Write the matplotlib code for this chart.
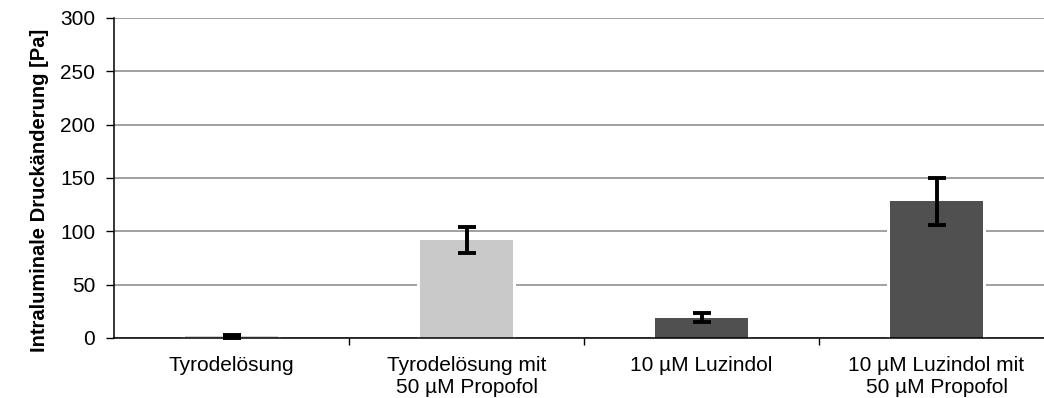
import numpy as np
import matplotlib.pyplot as plt

plt.rcParams['font.family'] = ['Liberation Sans', 'DejaVu Sans']

categories = ["Tyrodelösung", "Tyrodelösung mit\n50 µM Propofol",
              "10 µM Luzindol", "10 µM Luzindol mit\n50 µM Propofol"]
values = [1.5, 92, 19, 128]
errors = [1.5, 12, 4, 22]
colors = ["#d0d0d0", "#c9c9c9", "#505050", "#505050"]

fig = plt.figure(figsize=(10.44, 3.98), dpi=100)
ax = fig.add_axes([0.1092, 0.1508, 0.9004, 0.804])

x = np.arange(len(categories))
# white backing bars so the gridlines stop a few pixels short of each bar
ax.bar(x, values, width=0.418, color="white", linewidth=0, zorder=1.5)
ax.bar(x, values, width=0.392, color=colors, linewidth=0, zorder=2)
ax.errorbar(x, values, yerr=errors, fmt="none", ecolor="black",
            elinewidth=2.8, capsize=6.5, capthick=2.8, zorder=3, clip_on=False)

ax.set_xlim(-0.5, 3.5)
ax.set_ylim(0, 300)
ax.set_yticks(np.arange(0, 301, 50))
ax.yaxis.grid(True, color="#868686", linewidth=1.1)
ax.set_axisbelow(True)

ax.set_xticks(x)
ax.set_xticklabels(categories, fontsize=15, linespacing=1.2)
ax.set_xticks([0.5, 1.5, 2.5], minor=True)
ax.tick_params(axis="x", which="major", length=0, pad=13)
ax.tick_params(axis="x", which="minor", length=5, width=1, direction="out")
ax.tick_params(axis="y", length=6, width=1, labelsize=15, pad=7.5)

for side in ["top", "right"]:
    ax.spines[side].set_visible(False)
for side in ["left", "bottom"]:
    ax.spines[side].set_linewidth(1.1)
    ax.spines[side].set_color("black")

ax.set_ylabel("Intraluminale Druckänderung [Pa]", fontsize=14.5, fontweight="bold")
ax.yaxis.set_label_coords(-0.0695, 0.46)

fig.savefig("out.png", dpi=100)
